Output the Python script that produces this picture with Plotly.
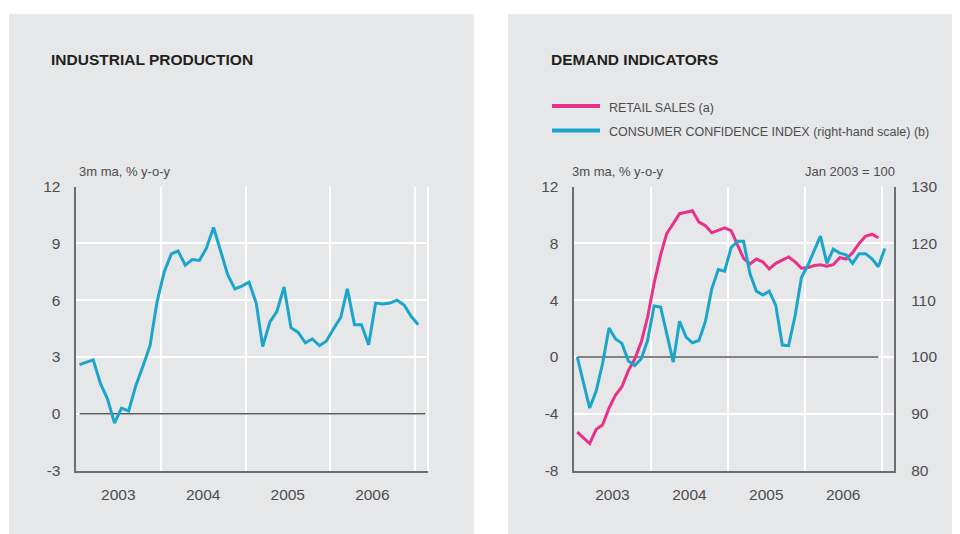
import pandas as pd
import plotly.graph_objects as go

# ---------------- data ----------------
months = pd.date_range("2003-01-01", periods=49, freq="MS") + pd.Timedelta(days=14)

industrial_production = [
    2.6, 2.75, 2.85, 1.6, 0.8, -0.5, 0.3, 0.15, 1.5, 2.5, 3.6, 5.9,
    7.5, 8.45, 8.6, 7.85, 8.15, 8.1, 8.75, 9.85, 8.6, 7.35, 6.6, 6.75,
    6.95, 5.85, 3.55, 4.85, 5.4, 6.7, 4.55, 4.3, 3.75, 3.95, 3.6, 3.85,
    4.5, 5.1, 6.6, 4.7, 4.7, 3.65, 5.85, 5.8, 5.85, 6.0, 5.75, 5.15,
    4.7,
]

retail_sales = [
    -5.3, -5.7, -6.1, -5.1, -4.8, -3.6, -2.7, -2.1, -0.95, -0.15, 1.05, 2.8,
    5.2, 7.2, 8.7, 9.4, 10.1, 10.2, 10.3, 9.5, 9.25, 8.75, 8.9, 9.1,
    8.9, 7.9, 6.95, 6.55, 6.9, 6.7, 6.2, 6.6, 6.8, 7.05, 6.7, 6.25,
    6.3, 6.45, 6.5, 6.4, 6.5, 7.0, 6.9, 7.35, 8.0, 8.5, 8.65, 8.4,
]

consumer_confidence = [
    100.0, 95.5, 91.0, 94.0, 98.8, 105.1, 103.2, 102.4, 99.3, 98.5, 99.7, 102.9,
    109.0, 108.8, 104.1, 99.1, 106.3, 103.5, 102.5, 102.9, 106.3, 112.0, 115.4, 115.1,
    119.3, 120.4, 120.4, 114.6, 111.6, 110.9, 111.6, 109.1, 102.1, 102.0, 107.3, 114.0,
    116.2, 118.8, 121.3, 116.5, 119.0, 118.3, 118.0, 116.5, 118.2, 118.2, 117.3, 115.9,
    119.1,
]

year_labels = ["2003", "2004", "2005", "2006"]
year_centres = ["2003-07-01", "2004-07-01", "2005-07-01", "2006-07-01"]
ip_ticks = [-3, 0, 3, 6, 9, 12]
rs_ticks = [-8, -4, 0, 4, 8, 12]
cci_ticks = [80, 90, 100, 110, 120, 130]

# ---------------- style ----------------
W, H = 960, 534
OFF = 8  # page body margin
PANEL = "#e6e7e8"
PINK = "#e8318a"
BLUE = "#1ca5ca"
AXIS = "#6d6e71"
ZERO = "#58595b"
TXT = "#4d4d4f"
FONT = "Liberation Sans, Arial, sans-serif"


def px(x):
    return (x - OFF) / W


def py(y):
    return 1 - (y - OFF) / H


fig = go.Figure()

fig.add_trace(go.Scatter(x=months, y=industrial_production, mode="lines",
                         line=dict(color=BLUE, width=3), xaxis="x", yaxis="y",
                         showlegend=False))
fig.add_trace(go.Scatter(x=months[:len(retail_sales)], y=retail_sales, mode="lines",
                         line=dict(color=PINK, width=3), xaxis="x2", yaxis="y2",
                         name="RETAIL SALES (a)", showlegend=False))
fig.add_trace(go.Scatter(x=months, y=consumer_confidence, mode="lines",
                         line=dict(color=BLUE, width=3), xaxis="x2", yaxis="y3",
                         name="CONSUMER CONFIDENCE INDEX (right-hand scale) (b)",
                         showlegend=False))

tickfont = dict(family=FONT, size=15.5, color=TXT)

xcommon = dict(
    type="date", tickmode="array", tickvals=year_centres, ticktext=year_labels,
    showgrid=False, showline=True, linecolor=AXIS, linewidth=1.5,
    ticks="outside", ticklen=0, ticklabelstandoff=9, tickfont=tickfont,
    minor=dict(dtick="M12", tick0="2003-01-01", showgrid=True,
               gridcolor="white", gridwidth=2, ticks=""),
    zeroline=False, fixedrange=True, automargin=False,
)
ycommon = dict(
    showgrid=True, gridcolor="white", gridwidth=2, showline=True,
    linecolor=AXIS, linewidth=1.5, zeroline=False, ticks="outside", ticklen=0,
    ticklabelstandoff=11, tickfont=tickfont, fixedrange=True, automargin=False,
)

fig.update_layout(
    width=W, height=H, margin=dict(l=0, r=0, t=0, b=0, pad=0, autoexpand=False),
    paper_bgcolor="white", plot_bgcolor=PANEL, showlegend=False,
    xaxis=dict(xcommon, domain=[px(76.3), px(428)], anchor="y",
               range=["2003-01-01", "2007-02-26"]),
    yaxis=dict(ycommon, domain=[py(470.5), py(186.7)], anchor="x",
               range=[-3, 12], tickvals=ip_ticks,
               ticktext=[str(v) for v in ip_ticks]),
    xaxis2=dict(xcommon, domain=[px(574.3), px(894.3)], anchor="y2",
                range=["2003-01-01", "2007-03-01"]),
    yaxis2=dict(ycommon, domain=[py(470.5), py(186.7)], anchor="x2",
                range=[-8, 12], tickvals=rs_ticks,
                ticktext=[str(v) for v in rs_ticks]),
    yaxis3=dict(overlaying="y2", side="right", anchor="x2", range=[80, 130],
                tickvals=cci_ticks, ticktext=[str(v) for v in cci_ticks],
                showgrid=False, showline=True, linecolor=AXIS, linewidth=1.5,
                zeroline=False, ticks="outside", ticklen=0,
                ticklabelstandoff=12, tickfont=tickfont, fixedrange=True,
                automargin=False),
)

shapes = [
    # grey panels
    dict(type="rect", xref="paper", yref="paper", x0=px(9), x1=px(473.7),
         y0=0, y1=py(14), fillcolor=PANEL, line=dict(width=0), layer="below"),
    dict(type="rect", xref="paper", yref="paper", x0=px(508), x1=1,
         y0=0, y1=py(14), fillcolor=PANEL, line=dict(width=0), layer="below"),
    # white right border of left plot
    dict(type="line", xref="x domain", yref="y domain", x0=1, x1=1, y0=0, y1=1,
         line=dict(color="white", width=2), layer="below"),
    # zero lines
    dict(type="line", xref="x", yref="y", x0=months[0], x1="2007-02-15",
         y0=0, y1=0, line=dict(color=ZERO, width=1.5), layer="between"),
    dict(type="line", xref="x2", yref="y2", x0=months[0],
         x1=months[len(retail_sales) - 1], y0=0, y1=0,
         line=dict(color=ZERO, width=1.5), layer="between"),
    # legend keys
    dict(type="line", xref="paper", yref="paper", x0=px(552), x1=px(600),
         y0=py(106), y1=py(106), line=dict(color=PINK, width=4)),
    dict(type="line", xref="paper", yref="paper", x0=px(552), x1=px(600),
         y0=py(130.5), y1=py(130.5), line=dict(color=BLUE, width=4)),
]
fig.update_layout(shapes=shapes)

small = dict(family=FONT, size=12.5, color=TXT)
axis_note = dict(family=FONT, size=13, color=TXT)
title_font = dict(family=FONT, size=15.5, color="#231f20", weight="bold")
ann = [
    dict(text="INDUSTRIAL PRODUCTION", x=px(49), y=py(59), font=title_font,
         xanchor="left"),
    dict(text="DEMAND INDICATORS", x=px(549), y=py(59), font=title_font,
         xanchor="left"),
    dict(text="3m ma, % y-o-y", x=px(77), y=py(172), font=axis_note, xanchor="left"),
    dict(text="3m ma, % y-o-y", x=px(570), y=py(172), font=axis_note, xanchor="left"),
    dict(text="Jan 2003 = 100", x=px(897), y=py(172), font=axis_note, xanchor="right"),
    dict(text="RETAIL SALES (a)", x=px(607), y=py(108), font=small, xanchor="left"),
    dict(text="CONSUMER CONFIDENCE INDEX (right-hand scale) (b)", x=px(607),
         y=py(132.5), font=small, xanchor="left"),
]
for a in ann:
    a.update(xref="paper", yref="paper", yanchor="middle", showarrow=False)
fig.update_layout(annotations=ann)

fig.write_html("out.html")
